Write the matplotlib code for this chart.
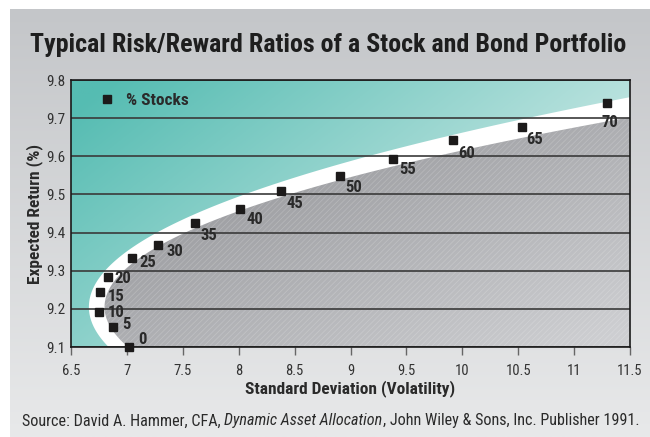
import numpy as np
import matplotlib
matplotlib.use("Agg")
import matplotlib.pyplot as plt

# data
pct_stocks = [0, 5, 10, 15, 20, 25, 30, 35, 40, 45, 50, 55, 60, 65, 70]
std_dev = [7.02, 6.88, 6.75, 6.76, 6.83, 7.05, 7.28, 7.61, 8.01, 8.38,
           8.91, 9.38, 9.92, 10.53, 11.29]
exp_return = [9.100, 9.153, 9.193, 9.243, 9.284, 9.334, 9.368, 9.424,
              9.463, 9.510, 9.549, 9.593, 9.644, 9.676, 9.739]

# label offsets (pixels) relative to each marker
lab_dx = [9, 9, 9, 8, 6, 7, 8, 5, 7, 5, 5, 6, 5, 5, -5]
lab_dy = [8, 2, -1, -4, -2, -5, -7, -12, -11, -13, -12, -11, -14, -12, -19]

fam = ['Roboto Condensed', 'Fira Sans Condensed', 'DejaVu Sans']
plt.rcParams['font.family'] = fam
plt.rcParams['hatch.linewidth'] = 0.6

W, H = 650, 437
fig = plt.figure(figsize=(W / 100, H / 100), dpi=100)
fig.patch.set_facecolor('white')

# grey panel behind everything
bg = fig.add_axes([10 / W, 0, 640 / W, 428 / H])
bg.set_axis_off()
g = np.linspace(0, 1, 256).reshape(-1, 1)
c_top = np.array([196, 198, 201]) / 255
c_bot = np.array([232, 233, 234]) / 255
bg.imshow(c_top + g[..., None] * (c_bot - c_top), aspect='auto',
          extent=[0, 1, 0, 1])
bg.set_zorder(-5)

ax = fig.add_axes([71 / W, 90 / H, 559 / W, 267 / H])
xmin, xmax, ymin, ymax = 6.5, 11.5, 9.1, 9.8
ax.set_xlim(xmin, xmax)
ax.set_ylim(ymin, ymax)

# teal gradient in plot area
nx, ny = 300, 150
u = np.linspace(0, 1, nx)[None, :]
v = np.linspace(1, 0, ny)[:, None]
t = np.clip(0.75 * u + 0.45 * (1 - v) - 0.05, 0, 1)
c0 = np.array([85, 188, 178]) / 255
c1 = np.array([222, 240, 238]) / 255
teal = c0 + t[..., None] * (c1 - c0)
ax.imshow(teal, extent=[xmin, xmax, ymin, ymax], aspect='auto', zorder=0.1)

# frontier band (white) and the region under it (grey)
r = np.linspace(9.0, 9.9, 400)
outer = 6.66 + 16.0 * (r - 9.205) ** 2
inner = 6.80 + 19.0 * (r - 9.205) ** 2
ax.fill_betweenx(r, outer, 12, color='white', lw=0, zorder=0.3)
grey_poly = ax.fill_betweenx(r, inner, 12, color='none', lw=0, zorder=0.4)

t2 = np.clip(0.55 * u + 0.6 * (1 - v) - 0.1, 0, 1)
g0 = np.array([136, 137, 141]) / 255
g1 = np.array([205, 206, 209]) / 255
grey = g0 + t2[..., None] * (g1 - g0)
im = ax.imshow(grey, extent=[xmin, xmax, ymin, ymax], aspect='auto', zorder=0.5)
im.set_clip_path(grey_poly.get_paths()[0], transform=ax.transData)
ax.fill_betweenx(r, inner, 12, facecolor='none', edgecolor=(1, 1, 1, 0.18),
                 hatch='//////', lw=0, zorder=0.6)

ax.set_axisbelow('line')
ax.yaxis.grid(True, color='#3a3a3a', lw=1.2)
ax.set_yticks(np.arange(9.1, 9.81, 0.1))
ax.set_yticklabels([f'{y:.1f}' for y in np.arange(9.1, 9.81, 0.1)])
ax.set_xticks(np.arange(6.5, 11.51, 0.5))
ax.set_xticklabels(['6.5', '7', '7.5', '8', '8.5', '9', '9.5', '10', '10.5', '11', '11.5'])
ax.tick_params(axis='x', direction='out', length=6, width=1, color='#666666',
               labelsize=10.5, labelcolor='#333333', pad=6)
ax.tick_params(axis='y', length=0, labelsize=11, labelcolor='#333333', pad=4)
for s in ax.spines.values():
    s.set_color('#1a1a1a')
    s.set_linewidth(1.2)

ax.plot(std_dev, exp_return, 's', ms=5.3, color='#1c1a1a', zorder=4,
        clip_on=False, label='% Stocks')
for p, xs, ys, dx, dy in zip(pct_stocks, std_dev, exp_return, lab_dx, lab_dy):
    ax.annotate(str(p), (xs, ys), xytext=(dx, dy), textcoords='offset pixels',
                ha='left', va='center', fontsize=12, fontweight='bold',
                color='#2a2a2a', zorder=5)

ax.legend(loc='upper left', bbox_to_anchor=(0.033, 0.977), frameon=False,
          handletextpad=0.5, handlelength=1.2, borderaxespad=0,
          prop={'weight': 'bold', 'size': 12.5, 'family': fam},
          labelcolor='#2a2a2a')

ax.set_xlabel('Standard Deviation (Volatility)', fontsize=12.5, fontweight='bold',
              color='#2a2a2a', labelpad=2)
ax.set_ylabel('Expected Return (%)', fontsize=12.5, fontweight='bold',
              color='#2a2a2a', labelpad=2)

fig.text(30 / W, 1 - 45 / H, 'Typical Risk/Reward Ratios of a Stock and Bond Portfolio',
         ha='left', va='center', fontsize=18.7, fontweight='heavy', color='#1e1e1e')

s1 = fig.text(22 / W, 1 - 421 / H, 'Source: David A. Hammer, CFA, ',
              ha='left', va='center', fontsize=11.6, color='#2a2a2a')
s2 = ax.annotate('Dynamic Asset Allocation', xy=(1, 0), xycoords=s1,
                 va='bottom', ha='left', fontsize=11.6, style='italic',
                 color='#2a2a2a', annotation_clip=False)
ax.annotate(', John Wiley & Sons, Inc. Publisher 1991.', xy=(1, 0), xycoords=s2,
            va='bottom', ha='left', fontsize=11.6, color='#2a2a2a',
            annotation_clip=False)

fig.savefig('out.png', dpi=100)
